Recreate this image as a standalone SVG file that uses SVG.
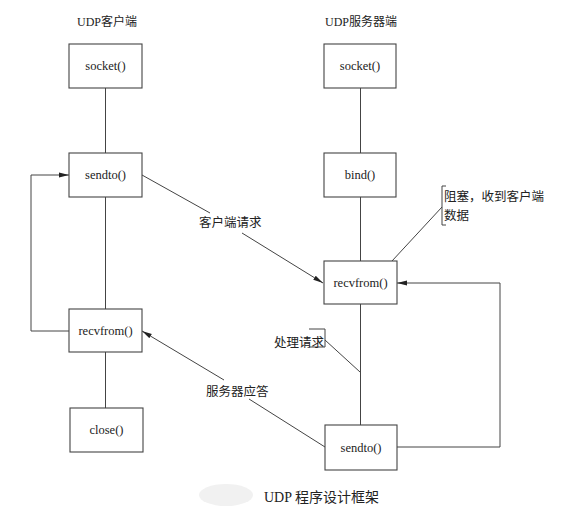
<svg xmlns="http://www.w3.org/2000/svg" width="565" height="518" viewBox="0 0 565 518">
<defs>
<marker id="arr" viewBox="0 0 10 6" refX="10" refY="3" markerWidth="10" markerHeight="6" markerUnits="userSpaceOnUse" orient="auto">
<path d="M0,0.6 L10,3 L0,5.4 z" fill="#222"/>
</marker>
<style>
.box{fill:#fff;stroke:#444;stroke-width:1.1}
.ln{fill:none;stroke:#444;stroke-width:1}
.t{font-family:"Liberation Serif","Noto Sans CJK SC",serif;font-size:12.5px;fill:#222;text-anchor:middle}
.c{font-family:"Noto Sans CJK SC","Liberation Serif",serif;font-size:12.5px;fill:#222}
.h{font-family:"Liberation Serif","Noto Sans CJK SC",serif;font-size:12px;fill:#222}
</style>
</defs>
<rect width="565" height="518" fill="#fff"/>
<ellipse cx="226" cy="495" rx="27" ry="11" fill="#f1f1f1"/>

<text class="h" x="77" y="26">UDP<tspan font-family="Noto Sans CJK SC">客户端</tspan></text>
<text class="h" x="325" y="26">UDP<tspan font-family="Noto Sans CJK SC">服务器端</tspan></text>

<g id="connectors">
<path class="ln" d="M105.5,88 V153 M105.5,197 V309 M105.5,352 V408"/>
<path class="ln" d="M360.5,88 V153 M360.5,197 V261 M360.5,304 V425"/>
<path class="ln" d="M69,331 H31 V175 H69" marker-end="url(#arr)"/>
<path class="ln" d="M397,447 H500 V283 H397" marker-end="url(#arr)"/>
<path class="ln" d="M142,175 L210,213"/>
<path class="ln" d="M242,233 L323,283" marker-end="url(#arr)"/>
<path class="ln" d="M325,447 L249,399"/>
<path class="ln" d="M224,380 L142,331" marker-end="url(#arr)"/>
<path class="ln" d="M446,186 H442 V225 H446"/>
<path class="ln" d="M442,207 L392,261"/>
<path class="ln" d="M309,329 H325 V347 H309"/>
<path class="ln" d="M325,340 L360,372"/>
</g>

<g id="client-socket"><rect class="box" x="69" y="44" width="73" height="44"/><text class="t" x="105.5" y="70">socket()</text></g>
<g id="client-sendto"><rect class="box" x="69" y="153" width="73" height="44"/><text class="t" x="105.5" y="179">sendto()</text></g>
<g id="client-recvfrom"><rect class="box" x="69" y="309" width="73" height="43"/><text class="t" x="105.5" y="335">recvfrom()</text></g>
<g id="client-close"><rect class="box" x="70" y="408" width="73" height="44"/><text class="t" x="106.5" y="434">close()</text></g>

<g id="server-socket"><rect class="box" x="324" y="44" width="72" height="44"/><text class="t" x="360" y="70">socket()</text></g>
<g id="server-bind"><rect class="box" x="324" y="153" width="72" height="44"/><text class="t" x="360" y="179">bind()</text></g>
<g id="server-recvfrom"><rect class="box" x="324" y="261" width="73" height="43"/><text class="t" x="360.5" y="287">recvfrom()</text></g>
<g id="server-sendto"><rect class="box" x="325" y="425" width="72" height="45"/><text class="t" x="361" y="452">sendto()</text></g>

<text class="c" x="199" y="227">客户端请求</text>
<text class="c" x="206" y="396">服务器应答</text>
<text class="c" x="274" y="347">处理请求</text>
<text class="c" x="444" y="201" font-size="12">阻塞，收到客户端</text>
<text class="c" x="444" y="220" font-size="12">数据</text>

<text x="264" y="502" font-family="Liberation Serif, Noto Sans CJK SC, serif" font-size="14" fill="#222">UDP <tspan font-family="Noto Sans CJK SC">程序设计框架</tspan></text>
</svg>
